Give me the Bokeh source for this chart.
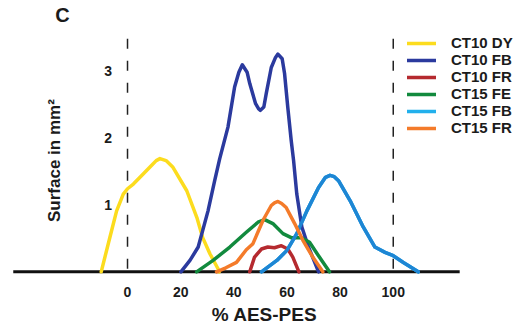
from bokeh.plotting import figure
from bokeh.models import Range1d, FixedTicker, Legend, LegendItem
from bokeh.core.properties import value
from bokeh.embed import file_html
from bokeh.resources import INLINE

# ---- data ----
dy10_x = [-9.9, -6.6, -4.1, -1.6, 0.0, 2.2, 5.9, 9.1, 10.8, 12.2, 14.5, 17.1, 22.3, 26.1, 28.3, 31.0, 34.0, 34.5]
dy10_y = [0.0, 0.52, 0.91, 1.16, 1.24, 1.31, 1.46, 1.59, 1.66, 1.69, 1.66, 1.56, 1.21, 0.81, 0.51, 0.27, 0.05, 0.0]

fb10_x = [20.1, 23.5, 26.6, 30.3, 32.8, 34.7, 37.8, 40.3, 41.9, 43.2, 45.0, 46.0, 48.2, 49.4, 50.0, 51.3,
          52.2, 54.1, 55.7, 56.6, 58.2, 59.1, 60.3, 61.6, 62.5, 63.7, 65.6, 68.1, 71.9]
fb10_y = [0.0, 0.17, 0.37, 0.91, 1.36, 1.69, 2.16, 2.76, 2.98, 3.09, 2.98, 2.81, 2.51, 2.43, 2.41, 2.46,
          2.66, 3.05, 3.20, 3.25, 3.18, 2.96, 2.46, 1.96, 1.66, 1.16, 0.67, 0.37, 0.0]

fr10_x = [46.0, 47.8, 50.4, 52.8, 55.3, 57.9, 60.3, 62.2, 64.5]
fr10_y = [0.0, 0.22, 0.34, 0.37, 0.36, 0.39, 0.34, 0.22, 0.0]

fe15_x = [26.0, 32.2, 38.5, 44.7, 49.1, 51.6, 54.7, 58.5, 61.6, 65.4, 68.5, 72.2, 76.0]
fe15_y = [0.0, 0.17, 0.37, 0.59, 0.74, 0.78, 0.72, 0.57, 0.51, 0.51, 0.44, 0.22, 0.0]

fb15_x = [50.4, 56.2, 60.0, 63.7, 67.5, 71.9, 74.5, 76.2, 77.8, 79.4, 83.8, 88.7, 93.1, 96.9, 100.0, 103.8, 109.4]
fb15_y = [0.0, 0.17, 0.32, 0.57, 0.91, 1.26, 1.41, 1.44, 1.42, 1.36, 1.06, 0.67, 0.37, 0.29, 0.24, 0.14, 0.0]

fr15_x = [33.5, 37.0, 41.0, 44.7, 47.2, 51.0, 54.1, 55.3, 56.6, 58.0, 59.7, 62.9, 66.0, 69.7, 73.5]
fr15_y = [0.0, 0.06, 0.14, 0.33, 0.42, 0.77, 0.99, 1.03, 1.05, 1.02, 0.96, 0.72, 0.47, 0.22, 0.0]

series_names = ["CT10 DY", "CT10 FB", "CT10 FR", "CT15 FE", "CT15 FB", "CT15 FR"]
x_ticks = [0, 20, 40, 60, 80, 100]
y_ticks = [1, 2, 3]
y_tick_labels = ["1", "2", "3"]
ref_lines_x = [0, 100]
ref_lines_top = 3.48
axis_extent = [-43, 125]

FONT_NAME = "Liberation Sans"
FONT = value(FONT_NAME)
TXT = "#1b1b1b"

p = figure(width=528, height=327, output_backend="svg", toolbar_location=None,
           x_range=Range1d(-47.8, 150.9), y_range=Range1d(-0.055, 4.05),
           y_axis_location=None, min_border_left=0, min_border_right=0,
           min_border_top=0, min_border_bottom=52)
p.outline_line_color = None
p.grid.visible = False
p.background_fill_color = "white"
p.border_fill_color = "white"

ax = p.xaxis[0]
ax.ticker = FixedTicker(ticks=x_ticks)
ax.axis_line_color = None
ax.major_tick_line_color = None
ax.minor_tick_line_color = None
ax.major_tick_out = 0
ax.major_tick_in = 0
ax.minor_tick_out = 0
ax.minor_tick_in = 0
ax.major_label_standoff = 11
ax.major_label_text_font = FONT_NAME
ax.major_label_text_font_style = "bold"
ax.major_label_text_font_size = "14px"
ax.major_label_text_color = TXT
ax.axis_label = "% AES-PES"
ax.axis_label_standoff = 4
ax.axis_label_text_font = FONT_NAME
ax.axis_label_text_font_style = "bold"
ax.axis_label_text_font_size = "19px"
ax.axis_label_text_line_height = 0.9
ax.axis_label_text_color = TXT

# baseline of the x axis
p.line(axis_extent, [0, 0], line_color="#111111", line_width=3)

# dashed reference lines
p.segment(x0=ref_lines_x, y0=[ref_lines_top] * 2, x1=ref_lines_x, y1=[0, 0],
          line_color="#222222", line_width=1.5, line_dash="10 12")

colors = ["#FCDC1E", "#2B3A9E", "#B52A2F", "#128A3E", "#1E86D4", "#F47B2A"]
series = [(dy10_x, dy10_y), (fb10_x, fb10_y), (fr10_x, fr10_y),
          (fe15_x, fe15_y), (fb15_x, fb15_y), (fr15_x, fr15_y)]

# legend swatch for CT15 FB is a lighter cyan in the reference; this copy is hidden under the curve
leg_fb15 = p.line(fb15_x, fb15_y, line_color="#22B0EC", line_width=3.5,
                  line_join="round", line_cap="round")

renderers = []
for (xs, ys), c in zip(series, colors):
    r = p.line(xs, ys, line_color=c, line_width=3.5, line_join="round", line_cap="round")
    renderers.append(r)

leg_renderers = renderers[:4] + [leg_fb15] + renderers[5:]

legend = Legend(items=[LegendItem(label=n, renderers=[r]) for n, r in zip(series_names, leg_renderers)],
                location=(407, 139), padding=0, margin=0, spacing=0,
                glyph_width=29, glyph_height=12, label_height=12, label_standoff=15,
                label_text_font=FONT_NAME, label_text_font_style="bold", label_text_font_size="15px",
                label_text_color=TXT, border_line_color=None, background_fill_alpha=0)
p.add_layout(legend, "center")

# y tick labels (drawn beside the dashed zero line)
p.text(x=[-7.3] * len(y_ticks), y=y_ticks, text=y_tick_labels, text_font=FONT,
       text_font_style="bold", text_font_size="14px", text_color=TXT,
       text_align="center", text_baseline="middle")

# y axis title
p.text(x=[-27.5], y=[1.66], text=["Surface in mm\u00b2"], angle=1.5708, text_font=FONT,
       text_font_style="bold", text_font_size="17px", text_color=TXT,
       text_align="center", text_baseline="middle")

# panel letter
p.text(x=[-24.5], y=[3.84], text=["C"], text_font=FONT, text_font_style="bold",
       text_font_size="20px", text_color=TXT, text_align="center", text_baseline="middle")

open("out.html", "w").write(file_html(p, INLINE))
